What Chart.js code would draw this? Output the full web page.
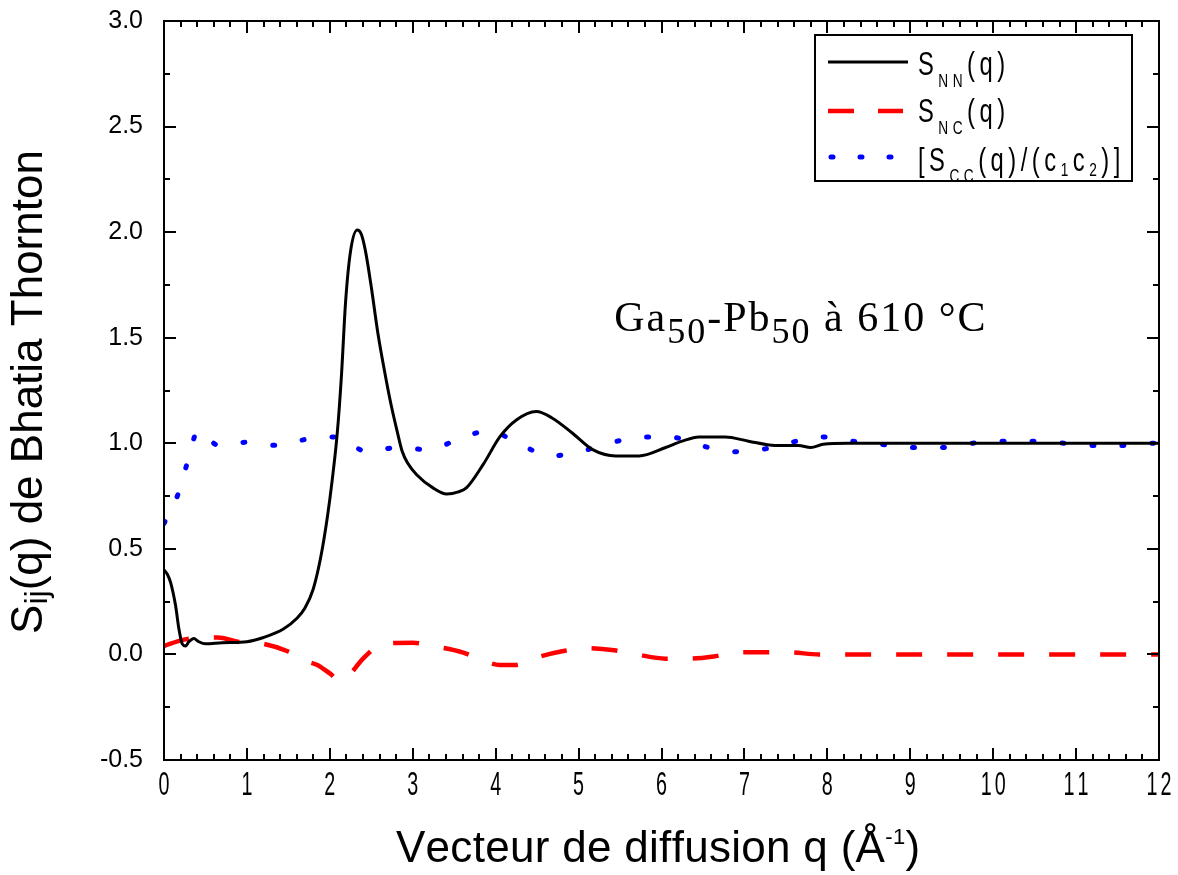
<!DOCTYPE html>
<html>
<head>
<meta charset="utf-8">
<title>Bhatia-Thornton Ga50-Pb50</title>
<script src="https://cdn.jsdelivr.net/npm/chart.js@4.4.0/dist/chart.umd.min.js"></script>
<style>
html, body { margin: 0; background: #fff; }
</style>
</head>
<body>
<canvas id="chart" width="1178" height="875"></canvas>
<script>
// S_NN(q), black solid
const qNN = [0, 0.04, 0.08, 0.14, 0.18, 0.22, 0.26, 0.30, 0.36, 0.42, 0.50, 0.70, 1.00, 1.20, 1.44, 1.60, 1.70, 1.80, 1.89, 1.97,
  2.03, 2.09, 2.14, 2.19, 2.25, 2.33, 2.38, 2.43, 2.50, 2.58, 2.67, 2.74, 2.81, 2.87, 2.94, 3.05, 3.24, 3.41, 3.55, 3.65,
  3.85, 4.05, 4.25, 4.49, 4.68, 4.92, 5.17, 5.45, 5.73, 6.05, 6.25, 6.45, 6.77, 7.05, 7.37, 7.65, 7.80, 7.95, 8.25, 9,
  10, 11, 12];
const sNN = [0.40, 0.38, 0.34, 0.23, 0.12, 0.05, 0.04, 0.06, 0.075, 0.06, 0.05, 0.055, 0.06, 0.08, 0.12, 0.17, 0.22, 0.31, 0.46, 0.65,
  0.83, 1.05, 1.32, 1.67, 1.91, 2.01, 1.99, 1.91, 1.74, 1.52, 1.32, 1.18, 1.06, 0.965, 0.905, 0.85, 0.79, 0.76, 0.77, 0.79,
  0.90, 1.03, 1.11, 1.15, 1.12, 1.05, 0.97, 0.94, 0.94, 0.98, 1.01, 1.03, 1.03, 1.01, 0.99, 0.99, 0.98, 0.995, 1.0, 1.0,
  1.0, 1.0, 1.0];

// S_NC(q), red dashed
const qNC = [0, 0.24, 0.45, 0.65, 0.89, 1.2, 1.49, 1.7, 1.85, 2.0, 2.12, 2.25, 2.4, 2.64, 3.0, 3.24, 3.6, 3.85, 4.05, 4.23,
  4.49, 4.8, 5.09, 5.43, 5.7, 6.05, 6.33, 6.63, 6.91, 7.25, 7.53, 7.9, 9, 10, 11, 12];
const sNC = [0.04, 0.07, 0.08, 0.08, 0.06, 0.05, 0.015, -0.03, -0.05, -0.09, -0.125, -0.09, -0.02, 0.05, 0.055, 0.04, 0.01, -0.03, -0.05, -0.05,
  -0.015, 0.015, 0.03, 0.02, 0, -0.02, -0.02, -0.01, 0.01, 0.01, 0.01, 0, 0, 0, 0, 0];

// S_CC(q)/(c1c2), blue dotted
const qCC = [0, 0.18, 0.29, 0.41, 0.66, 1.0, 1.36, 1.73, 2.09, 2.45, 2.82, 3.18, 3.56, 3.92, 4.27, 4.66, 5.01, 5.37, 5.75, 6.1,
  6.47, 6.83, 7.2, 7.57, 7.93, 8.29, 8.65, 9.02, 9.38, 9.74, 10.11, 10.47, 10.86, 11.21, 11.57, 11.94, 12];
const sCC = [0.62, 0.77, 0.92, 1.06, 0.99, 1.005, 0.99, 1.02, 1.03, 0.96, 0.98, 0.97, 1.02, 1.06, 1.0, 0.94, 0.96, 1.0, 1.03, 1.03,
  0.99, 0.96, 0.97, 1.005, 1.03, 1.01, 0.995, 0.98, 0.98, 1.0, 1.01, 1.01, 1.0, 0.99, 0.99, 1.0, 1.0];

const SANS = '"Liberation Sans", Arial, sans-serif';
const SERIF = '"Liberation Serif", "Times New Roman", serif';

function pts(qs, vs) {
  return qs.map(function(q, i) { return { x: q, y: vs[i] }; });
}

// text in pieces, with sub/superscripts, narrowed and spaced like the original
function drawRuns(ctx, x, y, runs, o, dry) {
  let cx = x;
  runs.forEach(function(r) {
    const size = (r.sub || r.sup) ? o.small : o.size;
    let dy = 0;
    if (r.sub) dy = r.dy !== undefined ? r.dy : o.subDy;
    if (r.sup) dy = -o.supDy;
    ctx.font = size + 'px ' + o.family;
    for (const ch of r.t) {
      if (!dry) {
        ctx.save();
        ctx.translate(cx, y + dy);
        ctx.scale(o.sx, 1);
        ctx.fillText(ch, 0, 0);
        ctx.restore();
      }
      cx += ctx.measureText(ch).width * o.sx + o.ls;
    }
  });
  return cx - x - o.ls;
}

function line(ctx, x1, y1, x2, y2) {
  ctx.beginPath();
  ctx.moveTo(x1, y1);
  ctx.lineTo(x2, y2);
  ctx.stroke();
}

const tickFont = { size: 34, small: 20, sx: 0.58, ls: 3, family: SANS };
const legendFont = { size: 33, small: 19, subDy: 12, sx: 0.72, ls: 4.5, family: SANS };
const titleFont = { size: 44, small: 32, subDy: 5, supDy: 18, sx: 1, ls: 0, family: SANS };
const xTitleFont = { size: 44, small: 22, subDy: 5, supDy: 18, sx: 1, ls: 0.3, family: SANS };
const noteFont = { size: 42, small: 36, subDy: 12, sx: 1, ls: 2, family: SERIF };

const framePlugin = {
  id: 'frame',
  afterDraw: function(chart) {
    const ctx = chart.ctx;
    const a = chart.chartArea;
    const xs = chart.scales.x;
    const ys = chart.scales.y;
    ctx.save();
    ctx.fillStyle = '#000';
    ctx.strokeStyle = '#000';
    ctx.textAlign = 'left';
    ctx.textBaseline = 'alphabetic';

    // box and inward ticks on all four sides
    ctx.lineWidth = 2;
    ctx.strokeRect(a.left, a.top, a.right - a.left, a.bottom - a.top);
    for (let i = 0; i <= 60; i++) {
      const px = Math.round(xs.getPixelForValue(i * 0.2));
      const len = i % 5 === 0 ? 12 : 6;
      line(ctx, px, a.bottom, px, a.bottom - len);
      line(ctx, px, a.top, px, a.top + len);
    }
    for (let i = 0; i <= 14; i++) {
      const py = Math.round(ys.getPixelForValue(-0.5 + i * 0.25));
      const len = i % 2 === 0 ? 12 : 6;
      line(ctx, a.left, py, a.left + len, py);
      line(ctx, a.right, py, a.right - len, py);
    }

    // x tick labels
    xs.ticks.forEach(function(t) {
      const run = [{ t: String(t.value) }];
      const w = drawRuns(ctx, 0, 0, run, tickFont, true);
      drawRuns(ctx, xs.getPixelForValue(t.value) - w / 2, a.bottom + 35, run, tickFont);
    });

    // axis titles
    const yTitle = [{ t: 'S' }, { t: 'ij', sub: true }, { t: '(q) de Bhatia Thornton' }];
    const wy = drawRuns(ctx, 0, 0, yTitle, titleFont, true);
    ctx.save();
    ctx.translate(42, 392 + wy / 2);
    ctx.rotate(-Math.PI / 2);
    drawRuns(ctx, 0, 0, yTitle, titleFont);
    ctx.restore();

    const xTitle = [{ t: 'Vecteur de diffusion q (Å' }, { t: '-1', sup: true }, { t: ')' }];
    const wx = drawRuns(ctx, 0, 0, xTitle, xTitleFont, true);
    drawRuns(ctx, 658 - wx / 2, a.bottom + 102, xTitle, xTitleFont);

    // annotation
    drawRuns(ctx, xs.getPixelForValue(5.43), ys.getPixelForValue(1.53),
      [{ t: 'Ga' }, { t: '50', sub: true }, { t: '-Pb' }, { t: '50', sub: true }, { t: ' à 610 °C' }], noteFont);

    // legend
    const lx = a.right - 344, ly = a.top + 14;
    ctx.fillStyle = '#fff';
    ctx.fillRect(lx, ly, 317, 146);
    ctx.lineWidth = 2;
    ctx.strokeRect(lx, ly, 317, 146);
    ctx.fillStyle = '#000';

    ctx.lineWidth = 3;
    line(ctx, lx + 13, ly + 27, lx + 93, ly + 27);
    ctx.strokeStyle = '#ff0000';
    ctx.lineWidth = 4.5;
    ctx.setLineDash([26, 24]);
    line(ctx, lx + 13, ly + 76, lx + 88, ly + 76);
    ctx.strokeStyle = '#0000ff';
    ctx.lineWidth = 5;
    ctx.lineCap = 'round';
    ctx.setLineDash([2, 27]);
    line(ctx, lx + 16, ly + 122, lx + 78, ly + 122);
    ctx.setLineDash([]);
    ctx.lineCap = 'butt';

    const tx = lx + 103;
    drawRuns(ctx, tx, ly + 40, [{ t: 'S' }, { t: 'NN', sub: true }, { t: '(q)' }], legendFont);
    drawRuns(ctx, tx, ly + 87, [{ t: 'S' }, { t: 'NC', sub: true }, { t: '(q)' }], legendFont);
    drawRuns(ctx, tx, ly + 136, [{ t: '[S' }, { t: 'CC', sub: true, dy: 11 }, { t: '(q)/(c' }, { t: '1', sub: true, dy: 5 },
      { t: 'c' }, { t: '2', sub: true, dy: 5 }, { t: ')]' }], legendFont);
    ctx.restore();
  }
};

new Chart(document.getElementById('chart'), {
  type: 'line',
  data: {
    datasets: [
      {
        label: 'S_NN(q)',
        data: pts(qNN, sNN),
        borderColor: '#000000',
        borderWidth: 3,
        pointRadius: 0,
        cubicInterpolationMode: 'monotone'
      },
      {
        label: 'S_NC(q)',
        data: pts(qNC, sNC),
        borderColor: '#ff0000',
        borderWidth: 4.5,
        borderDash: [26, 25],
        pointRadius: 0,
        cubicInterpolationMode: 'monotone'
      },
      {
        label: '[S_CC(q)/(c1c2)]',
        data: pts(qCC, sCC),
        borderColor: '#0000ff',
        borderWidth: 5,
        borderDash: [2, 28],
        borderCapStyle: 'round',
        pointRadius: 0,
        cubicInterpolationMode: 'monotone'
      }
    ]
  },
  options: {
    responsive: false,
    devicePixelRatio: 1,
    animation: false,
    layout: { padding: { top: 21, right: 19, left: 0, bottom: 0 } },
    plugins: {
      legend: { display: false },
      tooltip: { enabled: false }
    },
    scales: {
      x: {
        type: 'linear',
        min: 0,
        max: 12,
        ticks: { display: false, stepSize: 1 },
        grid: { display: false, drawTicks: false, tickLength: 0 },
        border: { display: false },
        afterFit: function(s) {
          s.height = 115;
          s.paddingLeft = 0;
          s.paddingRight = 0;
        }
      },
      y: {
        min: -0.5,
        max: 3.0,
        ticks: {
          stepSize: 0.5,
          padding: 21,
          color: '#000',
          font: { family: SANS, size: 25 },
          callback: function(v) { return v.toFixed(1); }
        },
        grid: { display: false, drawTicks: false, tickLength: 0 },
        border: { display: false },
        afterFit: function(s) {
          s.width = 164;
          s.paddingTop = 0;
          s.paddingBottom = 0;
        }
      }
    }
  },
  plugins: [framePlugin]
});
</script>
</body>
</html>
